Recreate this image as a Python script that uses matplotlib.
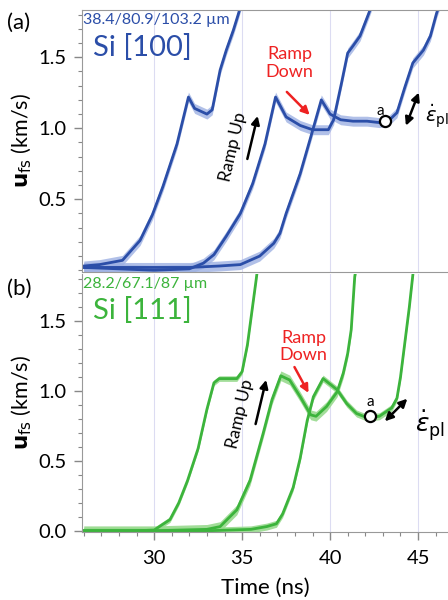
import numpy as np
import matplotlib
matplotlib.use("Agg")
import matplotlib.pyplot as plt

plt.rcParams['font.family'] = ['Lato', 'DejaVu Sans']
plt.rcParams['mathtext.fontset'] = 'dejavusans'

# ---- Si [100] (blue), three thicknesses ----
b1_t = [26.0, 26.9, 28.2, 29.2, 29.9, 30.5, 31.3, 31.95, 32.3, 33.0, 33.3, 33.75, 34.1, 34.5, 34.8, 35.0]
b1_u = [0.03, 0.04, 0.07, 0.21, 0.39, 0.59, 0.89, 1.22, 1.14, 1.10, 1.13, 1.41, 1.55, 1.69, 1.81, 1.90]

b2_t = [26.0, 28.0, 30.0, 32.0, 32.8, 33.4, 34.1, 34.9, 35.6, 36.3, 36.9, 37.5, 38.3, 39.0, 39.9,
        40.2, 40.65, 41.0, 41.3, 41.7, 42.2, 42.4]
b2_u = [0.02, 0.01, 0.00, 0.01, 0.05, 0.11, 0.24, 0.40, 0.61, 0.89, 1.22, 1.08, 1.02, 0.99, 0.99,
        1.06, 1.32, 1.53, 1.58, 1.65, 1.81, 1.88]

b3_t = [26.0, 29.0, 32.0, 33.7, 34.9, 36.0, 36.8, 37.15, 37.5, 38.3, 38.95, 39.5, 40.0, 40.6, 41.3,
        42.1, 42.8, 43.3, 43.8, 44.25, 44.7, 45.3, 45.7, 46.05, 46.3]
b3_u = [0.02, 0.02, 0.02, 0.03, 0.04, 0.10, 0.19, 0.26, 0.40, 0.68, 0.96, 1.20, 1.10, 1.06, 1.05,
        1.05, 1.04, 1.05, 1.11, 1.29, 1.46, 1.55, 1.65, 1.81, 1.90]

# ---- Si [111] (green) ----
g1_t = [26.0, 29.0, 30.0, 30.9, 31.4, 31.9, 32.5, 33.0, 33.4, 33.7, 34.7, 35.0, 35.3, 35.8, 35.9]
g1_u = [0.00, 0.00, 0.005, 0.08, 0.20, 0.36, 0.59, 0.87, 1.06, 1.09, 1.09, 1.14, 1.33, 1.80, 1.90]

g2_t = [26.0, 30.0, 33.0, 33.75, 34.7, 35.45, 36.2, 36.7, 37.2, 37.7, 38.3, 38.9, 39.2, 39.8, 40.4,
        40.75, 41.0, 41.2, 41.4, 41.5]
g2_u = [0.00, 0.00, 0.01, 0.03, 0.15, 0.36, 0.70, 0.94, 1.11, 1.08, 0.96, 0.83, 0.82, 0.89, 0.995,
        1.13, 1.27, 1.44, 1.82, 1.90]

g3_t = [26.0, 33.0, 35.5, 36.4, 36.95, 37.3, 37.9, 38.3, 38.7, 39.05, 39.6, 40.4, 40.95, 41.5, 42.1,
        42.8, 43.5, 43.8, 44.0, 44.2, 44.5, 44.7, 44.8]
g3_u = [0.00, 0.00, 0.01, 0.03, 0.05, 0.12, 0.31, 0.52, 0.79, 0.96, 1.09, 1.01, 0.91, 0.84, 0.81,
        0.82, 0.88, 0.95, 1.10, 1.30, 1.60, 1.83, 1.95]

blue_err = 0.035
green_err = [0.02, 0.035, 0.025]

blue = '#2b4ea8'
blue_band = '#9eb1e3'
green = '#3cb43c'
green_band = '#98da8e'

fig = plt.figure(figsize=(4.48, 6.0), dpi=100)
ax1 = fig.add_axes([0.183, 0.5467, 0.817, 0.4366])
ax2 = fig.add_axes([0.183, 0.1133, 0.817, 0.43])

for t, u in [(b1_t, b1_u), (b2_t, b2_u), (b3_t, b3_u)]:
    t = np.array(t); u = np.array(u)
    ax1.fill_between(t, u - blue_err, u + blue_err, color=blue_band, lw=0, alpha=0.8)
    ax1.plot(t, u, color=blue, lw=2.0)

for (t, u), e in zip([(g1_t, g1_u), (g2_t, g2_u), (g3_t, g3_u)], green_err):
    t = np.array(t); u = np.array(u)
    ax2.fill_between(t, u - e, u + e, color=green_band, lw=0, alpha=0.9)
    ax2.plot(t, u, color=green, lw=2.0)

for ax in (ax1, ax2):
    ax.set_xlim(25.9, 46.7)
    ax.set_xticks([30, 35, 40, 45])
    ax.set_xticks(np.arange(26, 47, 1), minor=True)
    ax.grid(axis='x', which='major', color='#dcdcf2', lw=0.8)
    ax.set_axisbelow(True)
    ax.set_yticks(np.arange(0, 1.81, 0.1), minor=True)
    ax.tick_params(axis='both', which='major', direction='out', length=6, width=1,
                   color='#888888', labelsize=14.5, pad=5)
    ax.tick_params(axis='both', which='minor', direction='out', length=3, width=0.8, color='#888888')
    ax.spines['right'].set_visible(False)
    for s in ax.spines.values():
        s.set_color('#999999')
    ax.set_ylabel(r'$\mathbf{u}_{\mathrm{fs}}$ (km/s)', fontsize=15.5, labelpad=3)

ax1.set_ylim(-0.012, 1.833)
ax1.set_yticks([0.5, 1.0, 1.5])
ax1.set_yticklabels(['0.5', '1.0', '1.5'])
ax1.tick_params(axis='x', which='both', bottom=False, labelbottom=False)

ax2.set_ylim(-0.009, 1.839)
ax2.set_yticks([0.0, 0.5, 1.0, 1.5])
ax2.set_yticklabels(['0.0', '0.5', '1.0', '1.5'])
ax2.spines['top'].set_visible(False)
ax2.tick_params(axis='x', which='major', pad=7)
ax2.set_xlabel('Time (ns)', fontsize=16, labelpad=8)

# panel labels and titles
fig.text(0.016, 0.962, '(a)', fontsize=16, va='center')
fig.text(0.016, 0.518, '(b)', fontsize=16, va='center')
ax1.text(0.004, 0.988, u'38.4/80.9/103.2 \u00b5m', transform=ax1.transAxes, color=blue,
         fontsize=11.5, va='top', ha='left')
ax1.text(0.03, 0.91, 'Si [100]', transform=ax1.transAxes, color=blue, fontsize=21, va='top')
ax2.text(0.004, 0.988, u'28.2/67.1/87 \u00b5m', transform=ax2.transAxes, color=green,
         fontsize=11.5, va='top', ha='left')
ax2.text(0.03, 0.91, 'Si [111]', transform=ax2.transAxes, color=green, fontsize=21, va='top')

arrow_k = dict(arrowstyle='-|>', color='black', lw=1.8, mutation_scale=12)
arrow_r = dict(arrowstyle='-|>', color='#ee2222', lw=1.8, mutation_scale=12)
arrow_kk = dict(arrowstyle='<|-|>', color='black', lw=1.8, mutation_scale=12)

# (a) annotations
ax1.text(34.5, 0.87, 'Ramp Up', rotation=77, fontsize=12.5, ha='center', va='center')
ax1.annotate('', xy=(35.92, 1.106), xytext=(35.26, 0.765), arrowprops=arrow_k)
ax1.text(37.7, 1.46, 'Ramp\nDown', color='#ee2222', fontsize=13, ha='center', va='center',
         linespacing=1.1)
ax1.annotate('', xy=(38.95, 1.08), xytext=(37.43, 1.27), arrowprops=arrow_r)
ax1.plot([43.1], [1.05], 'o', ms=8, mfc='white', mec='black', mew=1.6)
ax1.text(42.85, 1.12, 'a', fontsize=11, ha='center', va='center')
ax1.annotate('', xy=(45.1, 1.27), xytext=(44.25, 1.0), arrowprops=arrow_kk)
ax1.text(45.42, 1.08, r'$\dot{\varepsilon}_{\mathrm{pl}}$', fontsize=14, ha='left', va='center')

# (b) annotations
ax2.text(34.9, 0.84, 'Ramp Up', rotation=77, fontsize=12.5, ha='center', va='center')
ax2.annotate('', xy=(36.4, 1.10), xytext=(35.73, 0.745), arrowprops=arrow_k)
ax2.text(38.5, 1.32, 'Ramp\nDown', color='#ee2222', fontsize=13, ha='center', va='center',
         linespacing=1.1)
ax2.annotate('', xy=(38.85, 0.97), xytext=(37.9, 1.19), arrowprops=arrow_r)
ax2.plot([42.26], [0.82], 'o', ms=8, mfc='white', mec='black', mew=1.6)
ax2.text(42.26, 0.92, 'a', fontsize=11, ha='center', va='center')
ax2.annotate('', xy=(44.5, 0.96), xytext=(43.0, 0.77), arrowprops=arrow_kk)
ax2.text(44.85, 0.75, r'$\dot{\varepsilon}_{\mathrm{pl}}$', fontsize=18, ha='left', va='center')

fig.savefig('out.png', dpi=100)
